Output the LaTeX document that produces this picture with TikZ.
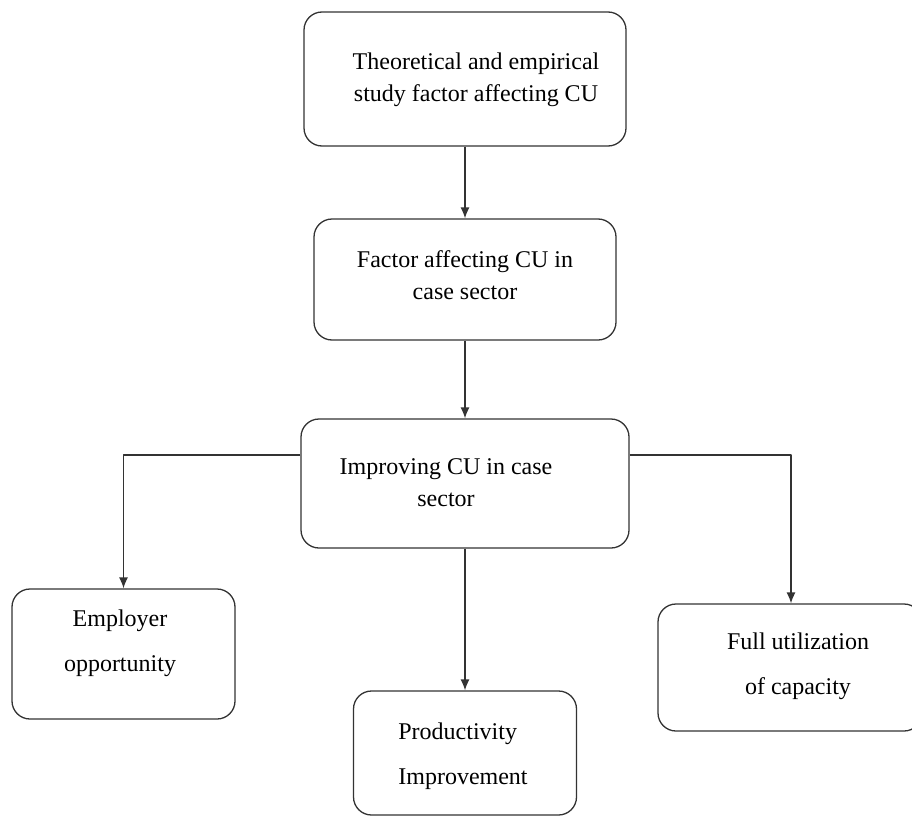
\documentclass[tikz,border=0pt]{standalone}
\usepackage{fontspec}
\setmainfont{Liberation Serif}
\usetikzlibrary{arrows.meta}

\tikzset{
  box/.style={draw=black!80,line width=1.3pt,rounded corners=18pt,inner sep=0pt},
  txt/.style={align=center,inner sep=0pt,font=\fontsize{24}{32}\selectfont},
  wide/.style={font=\fontsize{24}{45}\selectfont},
  arr/.style={draw=black!80,line width=1.3pt,-{Latex[length=11pt,width=9pt]}}
}

\begin{document}
\begin{tikzpicture}[x=1pt,y=-1pt,line join=round]
  \useasboundingbox (0,0) rectangle (912,816);
  % boxes
  \node[box,minimum width=322pt,minimum height=134pt] (b1) at (465,79) {};
  \node[box,minimum width=302pt,minimum height=121pt] (b2) at (465,279.5) {};
  \node[box,minimum width=328pt,minimum height=129pt] (b3) at (465,483.5) {};
  \node[box,minimum width=223pt,minimum height=130pt] (b4) at (123.5,654) {};
  \node[box,minimum width=223pt,minimum height=124pt] (b5) at (465,753) {};
  \node[box,minimum width=264pt,minimum height=127pt] (b6) at (790,667.5) {};
  % texts
  \node[txt] (t1) at (476,80) {Theoretical and empirical\\study factor affecting CU};
  \node[txt] (t2) at (465,275) {Factor affecting CU in\\case sector};
  \node[txt] (t3) at (446,483) {Improving CU in case\\sector};
  \node[txt,wide] (t4) at (120,643) {Employer\\opportunity};
  \node[txt,wide,align=left] (t5) at (463,756) {Productivity\\Improvement};
  \node[txt,wide] (t6) at (798,666) {Full utilization\\of capacity};
  % connectors
  \draw[arr] (b1.south) -- (b2.north);
  \draw[arr] (b2.south) -- (b3.north);
  \draw[arr] (b3.south) -- (b5.north);
  \draw[arr] ([yshift=28.5pt]b3.west) -| (b4.north);
  \draw[arr] ([yshift=28.5pt]b3.east) -| ([xshift=1pt]b6.north);
\end{tikzpicture}
\end{document}
